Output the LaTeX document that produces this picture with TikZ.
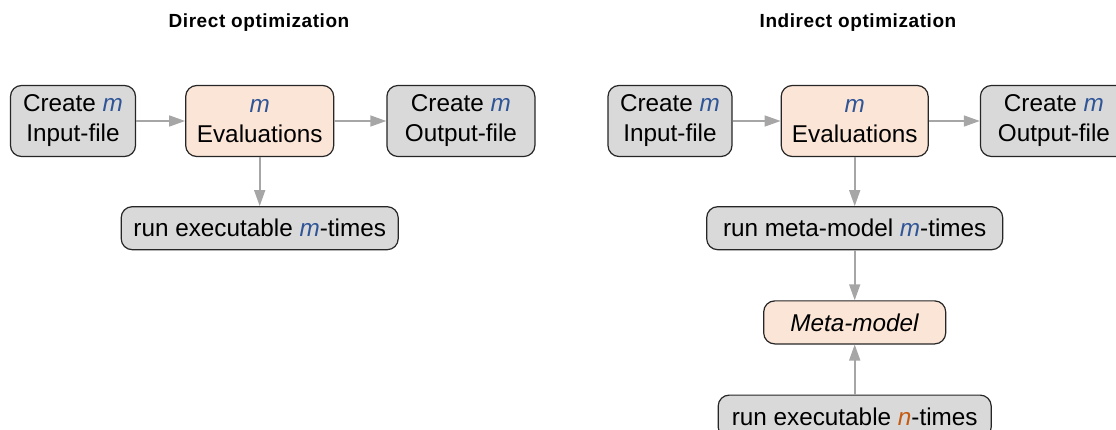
\documentclass[tikz,border=0pt]{standalone}
\usepackage{fontspec}
\setmainfont{Liberation Sans}
\newfontfamily\titlefont[LetterSpace=3]{Liberation Sans}
\usetikzlibrary{arrows.meta, positioning}
\definecolor{boxgray}{RGB}{217,217,217}
\definecolor{boxpeach}{RGB}{251,229,214}
\definecolor{mblue}{RGB}{47,85,151}
\definecolor{norange}{RGB}{197,90,17}
\definecolor{arrgray}{RGB}{166,166,166}
\newcommand{\mm}{\textcolor{mblue}{\textit{m}}}
\newcommand{\nn}{\textcolor{norange}{\textit{n}}}

\begin{document}
\begin{tikzpicture}[
  box/.style = {
    rectangle, rounded corners=11pt, draw=black!85, line width=1.2pt,
    font=\fontsize{24.3}{30}\selectfont, align=center, inner sep=0pt
  },
  gbox/.style = {box, fill=boxgray},
  pbox/.style = {box, fill=boxpeach},
  title/.style = {font=\titlefont\bfseries\fontsize{19}{22}\selectfont},
  arr/.style = {-{Triangle[length=16pt, width=11pt]}, draw=arrgray, line width=1.6pt}
]
\useasboundingbox (0,0) rectangle (1116pt,-430pt);

% direct optimization
\node[title] (tL) at (259pt,-23pt) {Direct optimization};
\node[gbox, minimum width=125pt, minimum height=71pt] (inL) at (73pt,-121pt) {Create \mm\\Input-file};
\node[pbox, minimum width=148pt, minimum height=71pt, right=49pt of inL] (evL) {\mm\\Evaluations};
\node[gbox, minimum width=148pt, minimum height=71pt, right=52pt of evL] (outL) {Create \mm\\Output-file};
\node[gbox, minimum width=277pt, minimum height=43pt, below=49pt of evL] (runL) {run executable \mm-times};
\draw[arr] (inL) -- (evL);
\draw[arr] (evL) -- (outL);
\draw[arr] (evL) -- (runL);

% indirect optimization
\node[title] (tR) at (858pt,-23pt) {Indirect optimization};
\node[gbox, minimum width=124pt, minimum height=71pt] (inR) at (670pt,-121pt) {Create \mm\\Input-file};
\node[pbox, minimum width=147pt, minimum height=71pt, right=48pt of inR] (evR) {\mm\\Evaluations};
\node[gbox, minimum width=147pt, minimum height=71pt, right=51pt of evR] (outR) {Create \mm\\Output-file};
\node[gbox, minimum width=296pt, minimum height=43pt, below=49pt of evR] (runR) {run meta-model \mm-times};
\node[pbox, minimum width=182pt, minimum height=43pt, below=50pt of runR] (meta) {\textit{Meta-model}};
\node[gbox, minimum width=273pt, minimum height=43pt, below=50pt of meta] (runN) {run executable \nn-times};
\draw[arr] (inR) -- (evR);
\draw[arr] (evR) -- (outR);
\draw[arr] (evR) -- (runR);
\draw[arr] (runR) -- (meta);
\draw[arr] (runN) -- (meta);
\end{tikzpicture}
\end{document}
